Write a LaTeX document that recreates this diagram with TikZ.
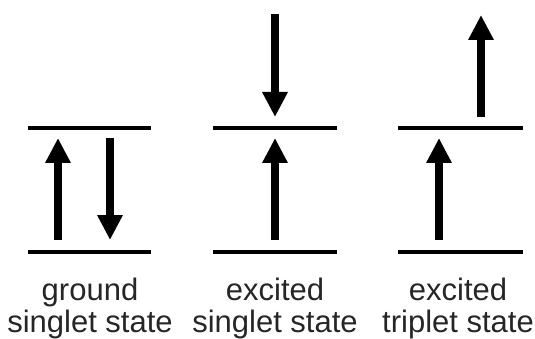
\documentclass[tikz,border=0pt]{standalone}
\usepackage{fontspec}
\setmainfont{Liberation Sans}
\usetikzlibrary{arrows.meta}
\begin{document}
\begin{tikzpicture}[x=1pt,y=-1pt,
  level/.style={line width=3.5pt},
  spin/.style={line width=7.5pt,-{Triangle[width=24pt,length=25pt]}},
  caption/.style={align=center,inner sep=0pt,anchor=base,text=black!85,
    font=\fontsize{31}{31.5}\selectfont}]
\useasboundingbox (0,0) rectangle (535,339);

% energy levels: ground singlet state
\coordinate (g-lo-l) at (28,252);  \coordinate (g-lo-r) at (151,252);
\coordinate (g-hi-l) at (28,128);  \coordinate (g-hi-r) at (151,128);
% excited singlet state
\coordinate (s-lo-l) at (213,252); \coordinate (s-lo-r) at (337,252);
\coordinate (s-hi-l) at (213,128); \coordinate (s-hi-r) at (337,128);
% excited triplet state
\coordinate (t-lo-l) at (398,252); \coordinate (t-lo-r) at (523,252);
\coordinate (t-hi-l) at (398,128); \coordinate (t-hi-r) at (523,128);

\draw[level] (g-lo-l) -- (g-lo-r);
\draw[level] (g-hi-l) -- (g-hi-r);
\draw[level] (s-lo-l) -- (s-lo-r);
\draw[level] (s-hi-l) -- (s-hi-r);
\draw[level] (t-lo-l) -- (t-lo-r);
\draw[level] (t-hi-l) -- (t-hi-r);

% electron spins
\coordinate (g-up-a) at (58,240);  \coordinate (g-up-b) at (58,138);
\coordinate (g-dn-a) at (110,138); \coordinate (g-dn-b) at (110,240);
\coordinate (s-up-a) at (275,240); \coordinate (s-up-b) at (275,138);
\coordinate (s-dn-a) at (275,14);  \coordinate (s-dn-b) at (275,117);
\coordinate (t-up-a) at (439,240); \coordinate (t-up-b) at (439,138);
\coordinate (t-hu-a) at (481,117); \coordinate (t-hu-b) at (481,15);

\draw[spin] (g-up-a) -- (g-up-b);
\draw[spin] (g-dn-a) -- (g-dn-b);
\draw[spin] (s-up-a) -- (s-up-b);
\draw[spin] (s-dn-a) -- (s-dn-b);
\draw[spin] (t-up-a) -- (t-up-b);
\draw[spin] (t-hu-a) -- (t-hu-b);

% state names (anchored on the baseline of the second line)
\node[caption] (g-name) at (90,332) {ground\\singlet state};
\node[caption] (s-name) at (275,332) {excited\\singlet state};
\node[caption] (t-name) at (458,332) {excited\\triplet state};
\end{tikzpicture}
\end{document}
